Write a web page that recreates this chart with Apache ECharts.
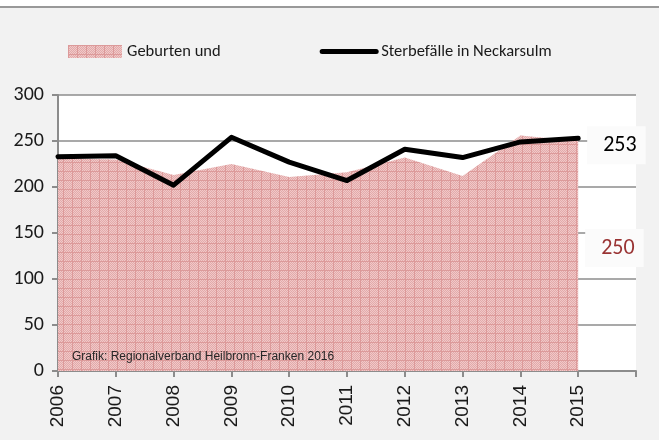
<!DOCTYPE html>
<html>
<head>
<meta charset="utf-8">
<script src="https://cdn.jsdelivr.net/npm/echarts@6/dist/echarts.min.js"></script>
<style>
  html, body { margin: 0; padding: 0; background: #f2f2f2; }
  #main { width: 659px; height: 440px; }
</style>
</head>
<body>
<div id="main"></div>
<script>
// Geburten und Sterbefälle in Neckarsulm 2006-2015
const years = ['2006', '2007', '2008', '2009', '2010', '2011', '2012', '2013', '2014', '2015', '']
const geburten = [231, 230, 213, 225, 211, 216, 232, 212, 256, 250]
const sterbefaelle = [233, 234, 202, 254, 227, 207, 241, 232, 249, 253]
const yTicks = { min: 0, max: 300, step: 50 }

const FONT = "'Carlito', 'Noto Sans', sans-serif"
const FONT_X = "'Liberation Sans', Arial, sans-serif"

// kariertes Muster wie in der Excel-Vorlage
function makePattern () {
  const c = document.createElement('canvas')
  c.width = 9
  c.height = 9
  const ctx = c.getContext('2d')
  ctx.fillStyle = '#f0c9c9'
  ctx.fillRect(0, 0, 9, 9)
  ctx.fillStyle = '#e3a9a9'
  for (let y = 0; y < 9; y++) {
    for (let x = 0; x < 9; x++) {
      if ((x + y) % 2 === 0) ctx.fillRect(x, y, 1, 1)
    }
  }
  ctx.fillStyle = '#dc9a9a'
  ctx.fillRect(0, 0, 9, 1)
  ctx.fillRect(0, 0, 1, 9)
  return c
}
const pattern = { image: makePattern(), repeat: 'repeat' }

const chart = echarts.init(document.getElementById('main'))

const option = {
  animation: false,
  backgroundColor: '#f2f2f2',
  textStyle: { fontFamily: FONT },
  graphic: [
    { type: 'rect', left: 0, top: 0, shape: { width: 659, height: 6 }, style: { fill: '#ffffff' } },
    { type: 'rect', left: 0, top: 6, shape: { width: 659, height: 2 }, style: { fill: '#999999' } },
    {
      type: 'text',
      left: 72,
      top: 351,
      z: 10,
      style: {
        text: 'Grafik: Regionalverband Heilbronn-Franken 2016',
        font: "12px 'Liberation Sans', Arial, sans-serif",
        fill: '#262626'
      }
    }
  ],
  legend: {
    left: 63,
    top: 38,
    itemWidth: 54,
    itemHeight: 13,
    itemGap: 99,
    textStyle: { fontSize: 16.5, color: '#1a1a1a', fontFamily: FONT },
    data: [
      { name: 'Geburten und', icon: 'rect' },
      {
        name: 'Sterbefälle in Neckarsulm',
        itemStyle: { opacity: 0 },
        lineStyle: { width: 5, cap: 'round', color: '#000' }
      }
    ]
  },
  grid: {
    left: 58,
    right: 23,
    top: 95,
    bottom: 69,
    show: true,
    backgroundColor: '#ffffff',
    borderWidth: 0
  },
  xAxis: {
    type: 'category',
    data: years,
    boundaryGap: false,
    axisLine: { lineStyle: { color: '#8c8c8c', width: 2 } },
    axisTick: { show: true, interval: 0, length: 6, lineStyle: { color: '#8c8c8c', width: 2 } },
    axisLabel: {
      interval: 0,
      rotate: 90,
      margin: 14,
      fontSize: 19,
      color: '#1a1a1a',
      fontFamily: FONT_X
    },
    splitLine: { show: false }
  },
  yAxis: {
    type: 'value',
    min: yTicks.min,
    max: yTicks.max,
    interval: yTicks.step,
    axisLine: { show: true, lineStyle: { color: '#8c8c8c', width: 2 } },
    axisTick: { show: true, length: 6, lineStyle: { color: '#8c8c8c', width: 2 } },
    axisLabel: { fontSize: 20, color: '#1a1a1a', margin: 14, fontFamily: FONT },
    splitLine: { lineStyle: { color: '#8c8c8c', width: 1.5 } }
  },
  series: [
    {
      name: 'Geburten und',
      type: 'line',
      data: geburten,
      symbol: 'none',
      lineStyle: { width: 0 },
      itemStyle: { color: pattern },
      areaStyle: { color: pattern, opacity: 1 },
      z: 1,
      endLabel: {
        show: true,
        formatter: '{c}',
        color: '#993333',
        fontSize: 22,
        fontFamily: FONT,
        backgroundColor: '#fbfbfb',
        padding: [8, 9, 8, 16],
        distance: 7,
        offset: [0, 107]
      }
    },
    {
      name: 'Sterbefälle in Neckarsulm',
      type: 'line',
      data: sterbefaelle,
      symbol: 'none',
      color: '#000000',
      lineStyle: { width: 5, color: '#000000', cap: 'round', join: 'round' },
      z: 3,
      endLabel: {
        show: true,
        formatter: '{c}',
        color: '#000000',
        fontSize: 22,
        fontFamily: FONT,
        backgroundColor: '#fbfbfb',
        padding: [8, 9, 8, 16],
        distance: 9,
        offset: [0, 7]
      }
    }
  ]
}

chart.setOption(option)
</script>
</body>
</html>
